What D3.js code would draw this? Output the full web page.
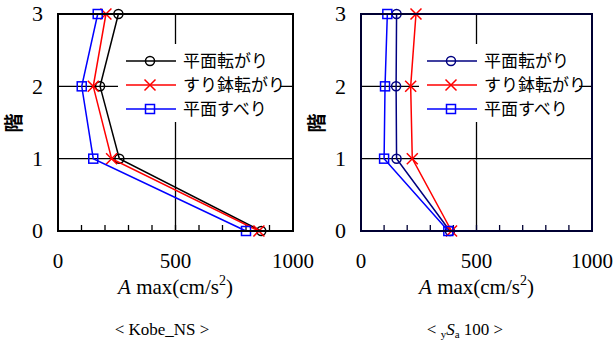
<!DOCTYPE html>
<html>
<head>
<meta charset="utf-8">
<script src="https://cdn.jsdelivr.net/npm/d3@7"></script>
<style>
  body { margin: 0; background: #fff; }
  svg { display: block; }
  .serif { font-family: 'Liberation Serif', 'Times New Roman', serif; }
  .jp { font-family: 'Noto Sans CJK JP', sans-serif; }
</style>
</head>
<body>
<div id="chart"></div>
<script>
// floors (y axis) and x ticks
const floors = [0, 1, 2, 3];
const xTicks = [0, 500, 1000];
const seriesNames = ['平面転がり', 'すり鉢転がり', '平面すべり'];

// Kobe_NS : Amax (cm/s2) per floor 0..3
const kobeRolling = [865, 261, 179, 257];
const kobeBowl = [855, 228, 150, 204];
const kobeSliding = [800, 150, 101, 169];

// ySa100
const sa100Rolling = [385, 154, 152, 154];
const sa100Bowl = [392, 222, 215, 238];
const sa100Sliding = [378, 100, 104, 114];

const svg = d3.select('#chart')
  .append('svg')
  .attr('width', 615)
  .attr('height', 346);

function drawPanel(cfg) {
  const x = d3.scaleLinear().domain([0, 1000]).range([cfg.left, cfg.right]);
  const y = d3.scaleLinear().domain([0, 3]).range([231, 14]);
  const g = svg.append('g');

  // grid lines
  g.selectAll('.hgrid')
    .data([1, 2])
    .enter()
    .append('line')
    .attr('x1', x(0)).attr('x2', x(1000))
    .attr('y1', d => y(d)).attr('y2', d => y(d))
    .attr('stroke', '#000').attr('stroke-width', 1.3);
  g.append('line')
    .attr('x1', x(500)).attr('x2', x(500))
    .attr('y1', y(0)).attr('y2', y(3))
    .attr('stroke', '#000').attr('stroke-width', 1.3);

  // minor ticks along the bottom, pointing inward
  g.selectAll('.mtick')
    .data(d3.range(100, 1000, 100))
    .enter()
    .append('line')
    .attr('x1', d => x(d)).attr('x2', d => x(d))
    .attr('y1', y(0)).attr('y2', y(0) - 6)
    .attr('stroke', cfg.frame).attr('stroke-width', 1.3);

  // legend background hides the grid
  g.append('rect')
    .attr('x', cfg.legX - 8).attr('y', 44)
    .attr('width', cfg.legW).attr('height', 78)
    .attr('fill', '#fff');

  const series = [
    { vals: cfg.rolling, color: cfg.rollColor, mark: 'circle' },
    { vals: cfg.bowl, color: '#ff0000', mark: 'cross' },
    { vals: cfg.sliding, color: '#0000ff', mark: 'square' },
  ];

  const line = d3.line()
    .x(d => x(d.v))
    .y(d => y(d.f));

  function marker(sel, type, color) {
    if (type === 'circle') {
      sel.append('circle').attr('r', 4.5)
        .attr('fill', 'none').attr('stroke', color).attr('stroke-width', 1.5);
    } else if (type === 'square') {
      sel.append('rect').attr('x', -4.5).attr('y', -4.5)
        .attr('width', 9).attr('height', 9)
        .attr('fill', 'none').attr('stroke', color).attr('stroke-width', 1.5);
    } else {
      sel.append('path').attr('d', 'M-5.5,-5.5L5.5,5.5M-5.5,5.5L5.5,-5.5')
        .attr('stroke', color).attr('stroke-width', 1.5);
    }
  }

  series.forEach((s) => {
    const pts = s.vals.map((v, i) => ({ v: v, f: floors[i] }));
    g.append('path')
      .datum(pts)
      .attr('d', line)
      .attr('fill', 'none')
      .attr('stroke', s.color)
      .attr('stroke-width', 1.5);
    pts.forEach((p) => {
      const m = g.append('g').attr('transform', `translate(${x(p.v)},${y(p.f)})`);
      marker(m, s.mark, s.color);
    });
  });

  // legend
  const rows = [61, 85, 109];
  series.forEach((s, i) => {
    g.append('line')
      .attr('x1', cfg.legX).attr('x2', cfg.legX + 50)
      .attr('y1', rows[i]).attr('y2', rows[i])
      .attr('stroke', s.color).attr('stroke-width', 1.5);
    const m = g.append('g').attr('transform', `translate(${cfg.legX + 24},${rows[i]})`);
    marker(m, s.mark, s.color);
    g.append('text')
      .attr('class', 'jp')
      .attr('x', cfg.legX + 57).attr('y', rows[i])
      .attr('dy', '0.36em')
      .style('font-size', '17px')
      .text(seriesNames[i]);
  });

  // frame
  g.append('rect')
    .attr('x', x(0)).attr('y', y(3))
    .attr('width', x(1000) - x(0)).attr('height', y(0) - y(3))
    .attr('fill', 'none').attr('stroke', cfg.frame).attr('stroke-width', 2);

  // y tick labels
  g.selectAll('.ylab')
    .data(floors)
    .enter()
    .append('text')
    .attr('class', 'serif')
    .attr('x', x(0) - 15).attr('y', d => y(d))
    .attr('dy', '0.33em')
    .attr('text-anchor', 'end')
    .style('font-size', '22px')
    .text(d => d);

  // y title
  g.append('text')
    .attr('class', 'jp')
    .attr('transform', `translate(${x(0) - 44},123) rotate(-90)`)
    .attr('text-anchor', 'middle')
    .attr('dy', '0.35em')
    .style('font-size', '19px')
    .style('font-weight', 'bold')
    .text('階');

  // x tick labels
  g.selectAll('.xlab')
    .data(xTicks)
    .enter()
    .append('text')
    .attr('class', 'serif')
    .attr('x', d => x(d)).attr('y', 268)
    .style('font-size', '21px')
    .attr('text-anchor', 'middle')
    .text(d => d);

  // x title
  const xt = g.append('text')
    .attr('class', 'serif')
    .attr('x', x(500)).attr('y', 294)
    .attr('text-anchor', 'middle')
    .style('font-size', '21px');
  xt.append('tspan').style('font-style', 'italic').text('A');
  xt.append('tspan').text(' max(cm/s');
  xt.append('tspan').style('font-size', '14px').attr('dy', -9).text('2');
  xt.append('tspan').attr('dy', 9).text(')');

  // panel caption
  const cap = g.append('text')
    .attr('class', 'serif')
    .attr('x', cfg.capX).attr('y', 335)
    .attr('text-anchor', 'middle')
    .style('font-size', '17px');
  cfg.caption(cap);
}

drawPanel({
  left: 58,
  right: 293,
  frame: '#000',
  rollColor: '#000',
  legX: 126,
  legW: 162,
  rolling: kobeRolling,
  bowl: kobeBowl,
  sliding: kobeSliding,
  capX: 162,
  caption: (t) => t.text('< Kobe_NS >'),
});

drawPanel({
  left: 361,
  right: 592,
  frame: '#000033',
  rollColor: '#000080',
  legX: 427,
  legW: 160,
  rolling: sa100Rolling,
  bowl: sa100Bowl,
  sliding: sa100Sliding,
  capX: 465,
  caption: (t) => {
    t.append('tspan').text('< ');
    t.append('tspan').style('font-size', '11px').attr('dy', 3).text('y');
    t.append('tspan').style('font-style', 'italic').attr('dy', -3).text('S');
    t.append('tspan').style('font-size', '11px').attr('dy', 3).text('a');
    t.append('tspan').attr('dy', -3).text(' 100 >');
  },
});
</script>
</body>
</html>
